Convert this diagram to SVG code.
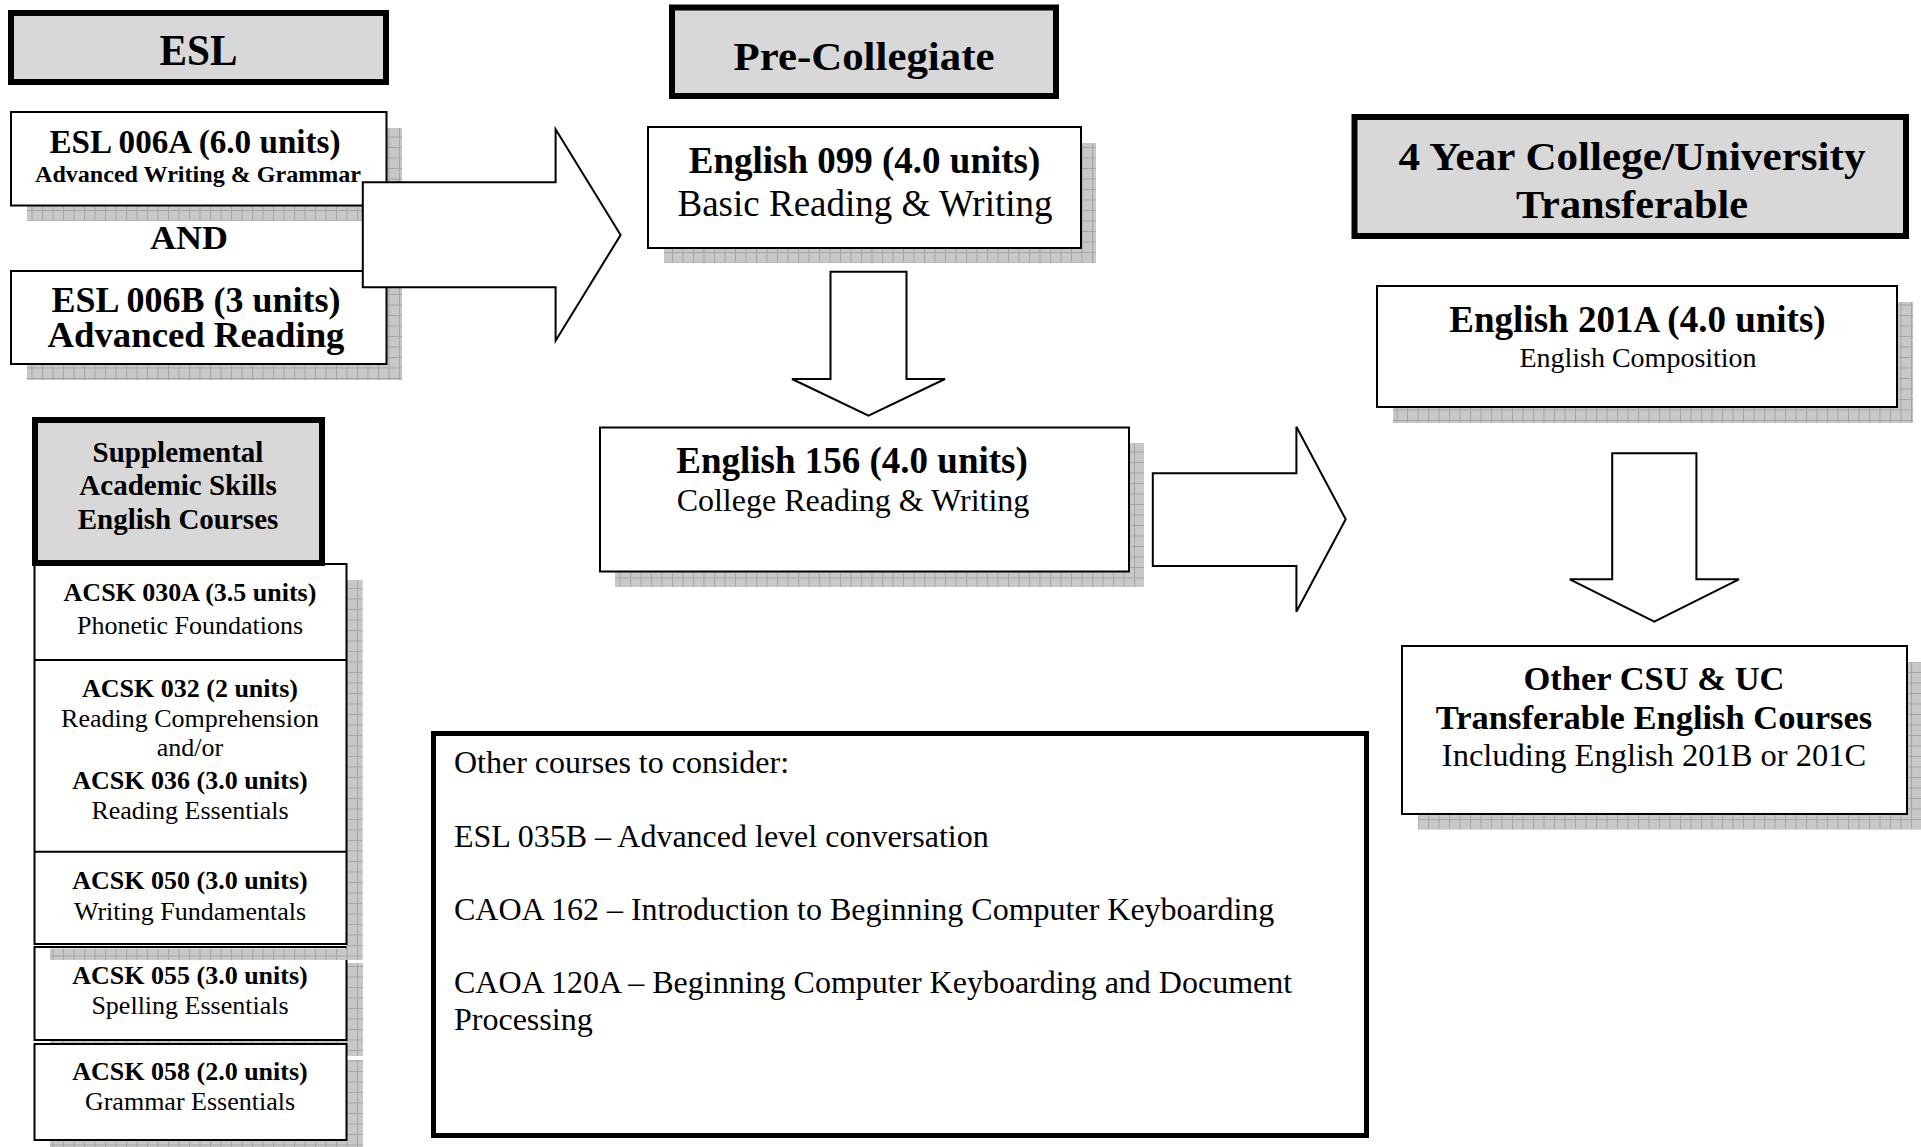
<svg xmlns="http://www.w3.org/2000/svg" width="1921" height="1147" viewBox="0 0 1921 1147">
  <defs>
    <!-- hatched drop-shadow fill -->
    <pattern id="shadeGrid" width="10.5" height="10.5" patternUnits="userSpaceOnUse">
      <rect width="10.5" height="10.5" fill="#c8c8c8"/>
      <path d="M0 0.5H10.5M0.5 0V10.5" stroke="#a4a4a4" stroke-width="1" fill="none"/>
    </pattern>
    <style>
      text { font-family: "Liberation Serif", "Times New Roman", serif; fill: #000; }
      .c { text-anchor: middle; }
      .b { font-weight: bold; }
      .head { fill: #d8d8d8; stroke: #000; stroke-width: 6; }
      .box { fill: #fff; stroke: #000; stroke-width: 2; }
      .frame { fill: none; stroke: #000; stroke-width: 2; }
      .shadow { fill: url(#shadeGrid); }
      .arrow { fill: #fff; stroke: #000; stroke-width: 2; stroke-linejoin: miter; }
      .note { fill: #fff; stroke: #000; stroke-width: 5; }
    </style>
  </defs>

  <rect width="1921" height="1147" fill="#fff"/>

  <!-- ESL column -->
  <g id="esl-header">
    <rect class="head" x="11" y="13" width="375" height="69"/>
    <text class="c b" x="198.5" y="65" font-size="45" textLength="78" lengthAdjust="spacingAndGlyphs">ESL</text>
  </g>

  <g id="esl-006a">
    <rect class="shadow" x="27" y="128" width="375" height="93"/>
    <rect class="box" x="11" y="112" width="375.5" height="93.5"/>
    <text class="c b" x="195" y="153" font-size="34" textLength="291" lengthAdjust="spacingAndGlyphs">ESL 006A (6.0 units)</text>
    <text class="c b" x="198" y="181.5" font-size="23" textLength="326" lengthAdjust="spacingAndGlyphs">Advanced Writing &amp; Grammar</text>
  </g>

  <g id="and-label">
    <text class="c b" x="189" y="249" font-size="34" textLength="78" lengthAdjust="spacingAndGlyphs">AND</text>
  </g>

  <g id="esl-006b">
    <rect class="shadow" x="27" y="287" width="375" height="93"/>
    <rect class="box" x="11" y="271" width="375.5" height="93"/>
    <text class="c b" x="196" y="311.5" font-size="35" textLength="289" lengthAdjust="spacingAndGlyphs">ESL 006B (3 units)</text>
    <text class="c b" x="196" y="347" font-size="35" textLength="297" lengthAdjust="spacingAndGlyphs">Advanced Reading</text>
  </g>

  <!-- Supplemental Academic Skills column -->
  <g id="acsk-055">
    <rect class="shadow" x="50" y="963" width="313" height="93"/>
    <rect class="box" x="34.5" y="947" width="312" height="93"/>
    <text class="c b" x="190" y="984" font-size="26">ACSK 055 (3.0 units)</text>
    <text class="c" x="190" y="1014" font-size="26">Spelling Essentials</text>
  </g>

  <g id="acsk-030-050">
    <path class="shadow" d="M346.5 580H362.7V960H50V948.5H346.5Z"/>
    <rect class="box" x="34.5" y="564" width="312" height="380"/>
    <path class="frame" d="M34.5 660H346.5M34.5 851.7H346.5"/>
    <text class="c b" x="190" y="601" font-size="26">ACSK 030A (3.5 units)</text>
    <text class="c" x="190" y="633.5" font-size="26">Phonetic Foundations</text>
    <text class="c b" x="190" y="696.5" font-size="26">ACSK 032 (2 units)</text>
    <text class="c" x="190" y="726.5" font-size="26">Reading Comprehension</text>
    <text class="c" x="190" y="755.5" font-size="26">and/or</text>
    <text class="c b" x="190" y="788.5" font-size="26">ACSK 036 (3.0 units)</text>
    <text class="c" x="190" y="818.5" font-size="26">Reading Essentials</text>
    <text class="c b" x="190" y="888.5" font-size="26">ACSK 050 (3.0 units)</text>
    <text class="c" x="190" y="919.5" font-size="26">Writing Fundamentals</text>
  </g>

  <g id="acsk-058">
    <rect class="shadow" x="50" y="1060" width="313" height="96"/>
    <rect class="box" x="34.5" y="1044" width="312" height="96"/>
    <text class="c b" x="190" y="1080" font-size="26">ACSK 058 (2.0 units)</text>
    <text class="c" x="190" y="1110" font-size="26">Grammar Essentials</text>
  </g>

  <g id="supplemental-header">
    <rect class="head" x="35" y="420" width="287" height="143"/>
    <text class="c b" x="178" y="461.5" font-size="29">Supplemental</text>
    <text class="c b" x="178" y="495" font-size="29">Academic Skills</text>
    <text class="c b" x="178" y="528.5" font-size="29">English Courses</text>
  </g>

  <!-- Pre-Collegiate column -->
  <g id="precollegiate-header">
    <rect class="head" x="672" y="7.5" width="384" height="88.5"/>
    <text class="c b" x="864" y="70" font-size="39" textLength="261" lengthAdjust="spacingAndGlyphs">Pre-Collegiate</text>
  </g>

  <g id="english-099">
    <rect class="shadow" x="664" y="143" width="432" height="120"/>
    <rect class="box" x="648" y="127" width="433" height="121"/>
    <text class="c b" x="864.5" y="173" font-size="37">English 099 (4.0 units)</text>
    <text class="c" x="865" y="215.5" font-size="37">Basic Reading &amp; Writing</text>
  </g>

  <g id="english-156">
    <rect class="shadow" x="615" y="443" width="529" height="144"/>
    <rect class="box" x="600" y="427.5" width="529" height="144"/>
    <text class="c b" x="852" y="473" font-size="37">English 156 (4.0 units)</text>
    <text class="c" x="853" y="511" font-size="32">College Reading &amp; Writing</text>
  </g>

  <!-- Transfer column -->
  <g id="transfer-header">
    <rect class="head" x="1354.5" y="117" width="551.5" height="119"/>
    <text class="c b" x="1632" y="170" font-size="39" textLength="467" lengthAdjust="spacingAndGlyphs">4 Year College/University</text>
    <text class="c b" x="1632" y="218" font-size="39" textLength="232" lengthAdjust="spacingAndGlyphs">Transferable</text>
  </g>

  <g id="english-201a">
    <rect class="shadow" x="1393" y="302" width="520" height="121"/>
    <rect class="box" x="1377" y="286" width="520" height="121"/>
    <text class="c b" x="1637.5" y="331.5" font-size="37">English 201A (4.0 units)</text>
    <text class="c" x="1638" y="366.5" font-size="28">English Composition</text>
  </g>

  <g id="other-csu-uc">
    <rect class="shadow" x="1418" y="662" width="505" height="167.5"/>
    <rect class="box" x="1402" y="646" width="505" height="168"/>
    <text class="c b" x="1654" y="689.5" font-size="34.5">Other CSU &amp; UC</text>
    <text class="c b" x="1654" y="729" font-size="34.5">Transferable English Courses</text>
    <text class="c" x="1654" y="766" font-size="32.5">Including English 201B or 201C</text>
  </g>

  <!-- Other courses note -->
  <g id="other-courses">
    <rect class="note" x="433.5" y="733.5" width="933" height="402"/>
    <text x="454" y="773" font-size="32">Other courses to consider:</text>
    <text x="454" y="847" font-size="32">ESL 035B – Advanced level conversation</text>
    <text x="454" y="920" font-size="32">CAOA 162 – Introduction to Beginning Computer Keyboarding</text>
    <text x="454" y="993" font-size="32">CAOA 120A – Beginning Computer Keyboarding and Document</text>
    <text x="454" y="1030" font-size="32">Processing</text>
  </g>

  <!-- Block arrows between stages -->
  <g id="connectors">
    <path class="arrow" d="M362.8 182.3H555.6V129.3L620.6 235L555.6 340.7V287.3H362.8Z"/>
    <path class="arrow" d="M830.5 271.7H906.5V379H945L868.5 415.7L792 379H830.5Z"/>
    <path class="arrow" d="M1152.8 473.3H1296.4V426.7L1345.7 519.3L1296.4 611.7V566H1152.8Z"/>
    <path class="arrow" d="M1612.2 453.3H1696.4V579.3H1738.9L1654.3 621.7L1569.8 579.3H1612.2Z"/>
  </g>
</svg>
